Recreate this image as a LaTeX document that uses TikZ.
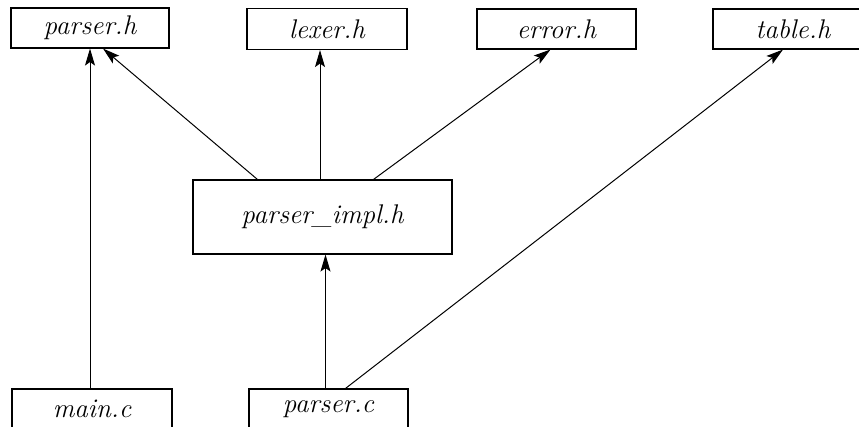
\documentclass[tikz,border=0pt]{standalone}
\usepackage{fontspec}
\setmainfont{Latin Modern Roman}
\usetikzlibrary{arrows.meta}
\begin{document}
\begin{tikzpicture}[x=1pt,y=1pt,
  filebox/.style={draw, line width=1.1pt, rectangle, inner sep=0pt, font=\fontsize{27}{32}\selectfont\itshape},
  arr/.style={line width=1pt, -{Stealth[length=17pt,width=10pt,inset=3.5pt]}}]
\useasboundingbox (0,0) rectangle (859,426);
\node[filebox, minimum width=158pt, minimum height=40pt] (parserh) at (90,398) {parser.h};
\node[filebox, minimum width=160pt, minimum height=41pt] (lexerh) at (327,397) {lexer.h};
\node[filebox, minimum width=159pt, minimum height=40pt] (errorh) at (556.5,397) {error.h};
\node[filebox, minimum width=160pt, minimum height=40pt] (tableh) at (793,397) {table.h};
\node[filebox, minimum width=259pt, minimum height=74pt] (pimpl) at (322.5,209) {parser\_impl.h};
\node[filebox, minimum width=160pt, minimum height=40pt] (mainc) at (92,17) {main.c};
\node[filebox, minimum width=159pt, minimum height=40pt] (parserc) at (328.5,17) {parser.c};
% connectors
\draw[arr] ([xshift=65pt]pimpl.north west) -- ([xshift=13pt]parserh.south);
\draw[arr] ([xshift=-2.5pt]pimpl.north) -- ([xshift=-7pt]lexerh.south);
\draw[arr] ([xshift=51pt]pimpl.north) -- ([xshift=-6pt]errorh.south);
\draw[arr] (mainc.north -| parserh.south) -- (parserh.south);
\draw[arr] ([xshift=-3pt]parserc.north) -- ([xshift=-3pt]parserc.north |- pimpl.south);
\draw[arr] ([xshift=17pt]parserc.north) -- ([xshift=-10pt]tableh.south);
\end{tikzpicture}
\end{document}
